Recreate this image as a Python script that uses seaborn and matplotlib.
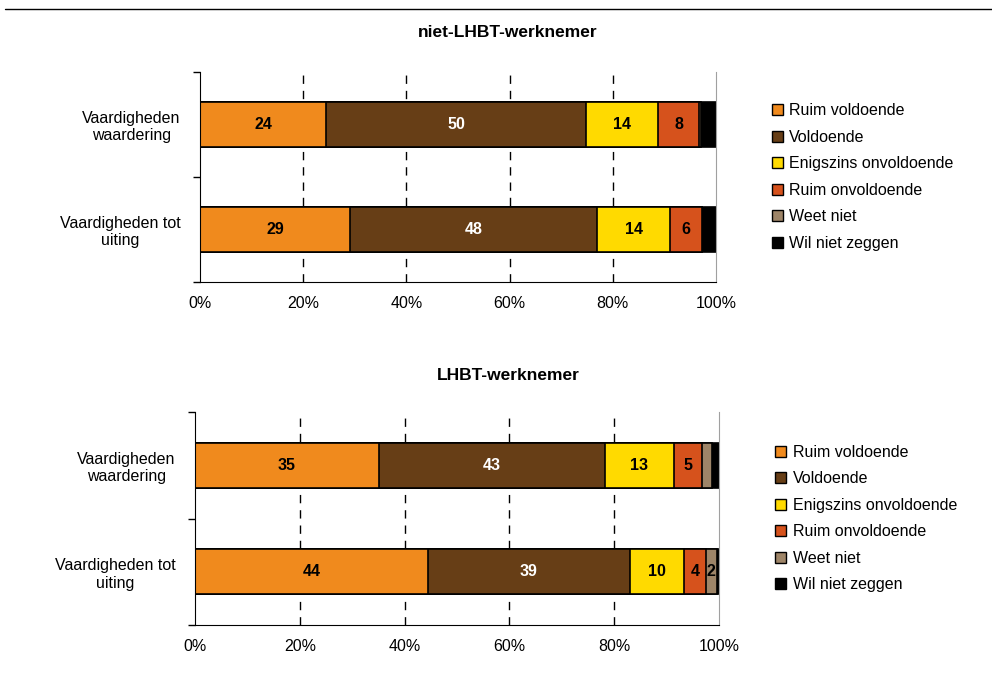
import numpy as np
import pandas as pd
import seaborn as sns
import matplotlib.pyplot as plt
from matplotlib.lines import Line2D
from matplotlib.patches import Patch

# --- DATA ---
categorieen = ["Ruim voldoende", "Voldoende", "Enigszins onvoldoende",
               "Ruim onvoldoende", "Weet niet", "Wil niet zeggen"]
vragen = ["Vaardigheden\nwaardering", "Vaardigheden tot\nuiting"]

niet_lhbt_waardering = [24.4, 50.4, 14.0, 7.9, 0.4, 2.9]
niet_lhbt_uiting = [29.1, 47.9, 14.1, 6.1, 0.0, 2.8]
lhbt_waardering = [35.1, 43.1, 13.2, 5.3, 1.9, 1.4]
lhbt_uiting = [44.4, 38.6, 10.4, 4.1, 2.1, 0.4]

titels = ["niet-LHBT-werknemer", "LHBT-werknemer"]
kleuren = ["#F08A1D", "#673E16", "#FFDA00", "#D6521C", "#9E8568", "#000000"]
tekstkleur = ["black", "white", "black", "black", "black", None]

# --- CONFIG ---
sns.set_style("white")
plt.rcParams["font.family"] = ["Liberation Sans", "DejaVu Sans"]
plt.rcParams["text.color"] = "black"
plt.rcParams["xtick.color"] = "black"
plt.rcParams["ytick.color"] = "black"
plt.rcParams["axes.labelcolor"] = "black"

fig = plt.figure(figsize=(9.92, 6.93), dpi=100)
posities = [[0.2016, 0.5931, 0.5202, 0.3030],
            [0.1966, 0.0981, 0.5282, 0.3074]]
titel_y = [0.953, 0.458]
datasets = [[niet_lhbt_waardering, niet_lhbt_uiting],
            [lhbt_waardering, lhbt_uiting]]

fig.add_artist(Line2D([0.005, 1.0], [0.987, 0.987], color="black", lw=1,
                      transform=fig.transFigure))

for pos, ty, titel, data in zip(posities, titel_y, titels, datasets):
    ax = fig.add_axes(pos)
    df = pd.DataFrame(data, columns=categorieen)
    df["vraag"] = vragen
    cum = df[categorieen].cumsum(axis=1)

    # gestapeld: cumulatieve totalen van achter naar voren tekenen
    for i in range(len(categorieen) - 1, -1, -1):
        sns.barplot(x=cum[categorieen[i]], y=df["vraag"], orient="h",
                    color=kleuren[i], width=0.42, edgecolor="black",
                    linewidth=1.2, ax=ax, saturation=1)

    for r in range(len(vragen)):
        links = 0
        for i, cat in enumerate(categorieen):
            v = df.loc[r, cat]
            if v >= 2 and tekstkleur[i] is not None:
                ax.text(links + v / 2, r, f"{v:.0f}", ha="center", va="center",
                        fontsize=11.5, fontweight="bold", color=tekstkleur[i])
            links += v

    ax.set_xlim(0, 100)
    ax.set_ylim(1.5, -0.5)
    ax.set_xticks(np.arange(0, 101, 20))
    ax.set_xticklabels([f"{t}%" for t in range(0, 101, 20)], fontsize=11.5)
    ax.set_yticks([0, 1])
    ax.set_yticklabels(vragen, fontsize=11.5, multialignment="center")
    ax.set_yticks([-0.5, 0.5, 1.5], minor=True)
    ax.tick_params(axis="y", which="major", length=0, pad=14)
    ax.tick_params(axis="y", which="minor", length=5, width=1, direction="out", left=True)
    ax.tick_params(axis="x", length=0, pad=10)
    ax.set_xlabel("")
    ax.set_ylabel("")
    for g in [20, 40, 60, 80]:
        ax.axvline(g, color="black", lw=1, ls=(0, (6, 5)), zorder=0)
    ax.spines["top"].set_visible(False)
    ax.spines["right"].set_color("#A0A0A0")
    ax.spines["left"].set_color("black")
    ax.spines["bottom"].set_color("black")

    fig.text(0.512, ty, titel, ha="center", va="center", fontsize=12.5,
             fontweight="bold")

    handles = [Patch(facecolor=k, edgecolor="black", lw=1) for k in kleuren]
    ax.legend(handles, categorieen, loc="center left", bbox_to_anchor=(1.08, 0.5),
              frameon=False, fontsize=11.5, handlelength=0.7, handleheight=0.7,
              handletextpad=0.4, labelspacing=0.72)

fig.savefig("out.png", dpi=100)
